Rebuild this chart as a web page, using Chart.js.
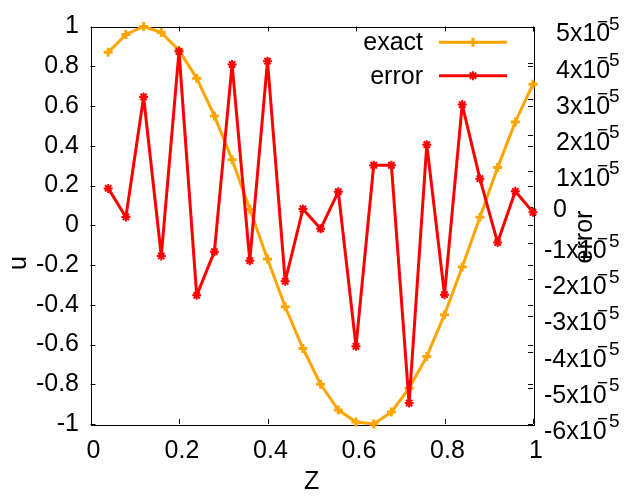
<!DOCTYPE html>
<html>
<head>
<meta charset="utf-8">
<script src="https://cdn.jsdelivr.net/npm/chart.js@4.4.0/dist/chart.umd.min.js"></script>
<style>
    html, body { margin: 0; padding: 0; background: #fff; }
</style>
</head>
<body>
<canvas id="chart" width="627" height="497"></canvas>
<script>
const zValues = [0.04, 0.08, 0.12, 0.16, 0.20, 0.24, 0.28, 0.32, 0.36, 0.40, 0.44, 0.48, 0.52,
    0.56, 0.60, 0.64, 0.68, 0.72, 0.76, 0.80, 0.84, 0.88, 0.92, 0.96, 1.00];
const exactValues = [0.87, 0.96, 1.00, 0.97, 0.88, 0.74, 0.55, 0.33, 0.08, -0.17, -0.41, -0.62, -0.80,
    -0.93, -0.99, -1.00, -0.94, -0.82, -0.66, -0.45, -0.21, 0.04, 0.29, 0.52, 0.71];
// error in units of 1e-5
const errorValues = [0.52, -0.27, 3.05, -1.35, 4.31, -2.44, -1.23, 3.95, -1.48, 4.04, -2.05, -0.05, -0.60,
    0.43, -3.85, 1.16, 1.16, -5.42, 1.73, -2.42, 2.84, 0.79, -0.98, 0.44, -0.14];
const zTicks = [0, 0.2, 0.4, 0.6, 0.8, 1];
const uTicks = [-1, -0.8, -0.6, -0.4, -0.2, 0, 0.2, 0.4, 0.6, 0.8, 1];
const errorTicks = [-6, -5, -4, -3, -2, -1, 0, 1, 2, 3, 4, 5];

const FONT = "Liberation Sans, Arial, sans-serif";
const ORANGE = "#ffa500";
const RED = "#ff0000";

function fmt(v) {
    return String(Number(v.toFixed(1)));
}

// gnuplot-like frame, inward ticks, y2 labels, axis titles and key
const gnuplotLook = {
    id: "gnuplotLook",
    beforeDatasetsDraw(chart) {
        const ctx = chart.ctx;
        const a = chart.chartArea;
        const sx = chart.scales.x, sy = chart.scales.y, sy2 = chart.scales.y2;
        const tl = 5;
        ctx.save();
        ctx.strokeStyle = "#000";
        ctx.lineWidth = 1;
        ctx.strokeRect(Math.round(a.left) + 0.5, Math.round(a.top) + 0.5,
            Math.round(a.right - a.left), Math.round(a.bottom - a.top));
        ctx.beginPath();
        zTicks.forEach(v => {
            const px = Math.round(sx.getPixelForValue(v)) + 0.5;
            ctx.moveTo(px, a.bottom); ctx.lineTo(px, a.bottom - tl);
            ctx.moveTo(px, a.top); ctx.lineTo(px, a.top + tl);
        });
        uTicks.forEach(v => {
            const py = Math.round(sy.getPixelForValue(v)) + 0.5;
            ctx.moveTo(a.left, py); ctx.lineTo(a.left + tl, py);
            ctx.moveTo(a.right, py); ctx.lineTo(a.right - tl, py);
        });
        errorTicks.forEach(v => {
            const py = Math.round(sy2.getPixelForValue(v * 1e-5)) + 0.5;
            ctx.moveTo(a.right, py); ctx.lineTo(a.right - tl, py);
        });
        ctx.stroke();

        // y2 tick labels with superscript exponent
        ctx.fillStyle = "#000";
        ctx.textAlign = "left";
        ctx.textBaseline = "middle";
        errorTicks.forEach(v => {
            const py = sy2.getPixelForValue(v * 1e-5);
            ctx.font = "25px " + FONT;
            if (v === 0) {
                ctx.fillText("0", 553, py + 2.5);
                return;
            }
            const x0 = v < 0 ? 544 : 556;
            ctx.fillText(v + "x10", x0, py + 8);
            ctx.font = "19px " + FONT;
            ctx.fillText("\u2212", 597, py - 4);
            ctx.fillText("5", 609, py - 2);
        });

        // rotated axis titles
        ctx.font = "25px " + FONT;
        ctx.textAlign = "center";
        ctx.save();
        ctx.translate(19, 263);
        ctx.rotate(-Math.PI / 2);
        ctx.fillText("u", 0, 0);
        ctx.restore();
        ctx.save();
        ctx.translate(585, 237);
        ctx.rotate(-Math.PI / 2);
        ctx.fillText("error", 0, 0);
        ctx.restore();
        ctx.restore();
    },
    afterDraw(chart) {
        const ctx = chart.ctx;
        const rows = [42.3, 75.7];
        ctx.save();
        chart.data.datasets.slice().reverse().forEach((ds, i) => {
            const y = rows[i];
            ctx.fillStyle = "#000";
            ctx.font = "25px " + FONT;
            ctx.textAlign = "right";
            ctx.textBaseline = "middle";
            ctx.fillText(ds.label, 423, y + 1);
            ctx.strokeStyle = ds.borderColor;
            ctx.lineWidth = ds.borderWidth;
            ctx.beginPath();
            ctx.moveTo(439, y); ctx.lineTo(507, y);
            ctx.stroke();
            ctx.lineWidth = ds.pointBorderWidth;
            Chart.helpers.drawPoint(ctx, {
                pointStyle: ds.pointStyle, radius: ds.pointRadius,
                borderWidth: ds.pointBorderWidth, rotation: 0
            }, 473, y);
        });
        ctx.restore();
    }
};

new Chart(document.getElementById("chart"), {
    type: "line",
    data: {
        datasets: [{
            label: "error",
            data: zValues.map((z, i) => ({ x: z, y: errorValues[i] * 1e-5 })),
            yAxisID: "y2",
            borderColor: RED,
            backgroundColor: RED,
            borderWidth: 3,
            borderJoinStyle: "round",
            pointStyle: "star",
            pointRadius: 4.5,
            pointBorderWidth: 2,
            tension: 0,
            clip: false
        }, {
            label: "exact",
            data: zValues.map((z, i) => ({ x: z, y: exactValues[i] })),
            yAxisID: "y",
            borderColor: ORANGE,
            backgroundColor: ORANGE,
            borderWidth: 3,
            borderJoinStyle: "round",
            pointStyle: "cross",
            pointRadius: 4.5,
            pointBorderWidth: 3,
            tension: 0,
            clip: false
        }]
    },
    options: {
        responsive: false,
        animation: false,
        devicePixelRatio: 1,
        layout: { padding: { top: 20.7, left: 0, right: 0, bottom: 0 } },
        plugins: {
            legend: { display: false },
            tooltip: { enabled: false }
        },
        scales: {
            x: {
                type: "linear",
                min: 0,
                max: 1,
                afterBuildTicks: s => { s.ticks = zTicks.map(v => ({ value: v })); },
                afterFit: s => { s.height = 73; },
                grid: { display: false, drawTicks: false },
                border: { display: false },
                ticks: {
                    callback: v => fmt(v),
                    color: "#000",
                    font: { family: FONT, size: 25 },
                    padding: 12,
                    labelOffset: 3,
                    maxRotation: 0
                },
                title: {
                    display: true,
                    text: "Z",
                    color: "#000",
                    font: { family: FONT, size: 25 },
                    padding: { top: 0, bottom: 0 }
                }
            },
            y: {
                position: "left",
                min: -1,
                max: 1,
                afterBuildTicks: s => { s.ticks = uTicks.map(v => ({ value: v })); },
                afterFit: s => { s.width = 90.5; },
                grid: { display: false, drawTicks: false },
                border: { display: false },
                ticks: {
                    callback: v => fmt(v),
                    color: "#000",
                    font: { family: FONT, size: 25 },
                    padding: 11.5
                }
            },
            y2: {
                position: "right",
                min: -6e-5,
                max: 5e-5,
                afterBuildTicks: s => { s.ticks = errorTicks.map(v => ({ value: v * 1e-5 })); },
                afterFit: s => { s.width = 94; },
                grid: { display: false, drawTicks: false },
                border: { display: false },
                ticks: { display: false }
            }
        }
    },
    plugins: [gnuplotLook]
});
</script>
</body>
</html>
